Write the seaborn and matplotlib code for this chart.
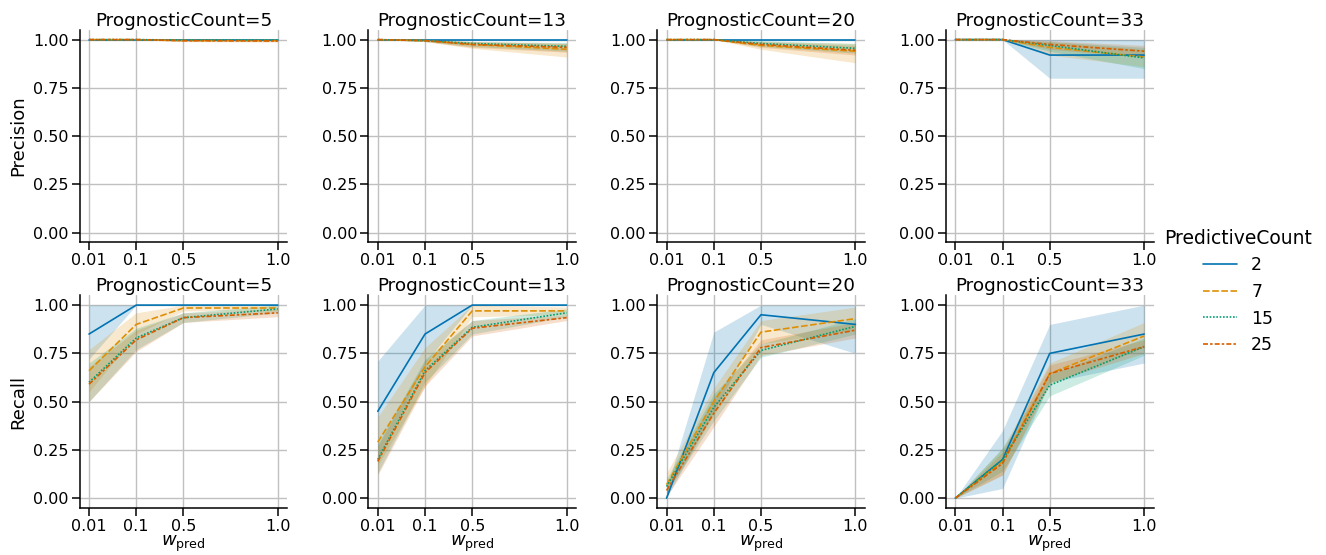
import numpy as np
import pandas as pd
import matplotlib
matplotlib.use("Agg")
import matplotlib.pyplot as plt
import seaborn as sns

# x values and facet levels
w_pred = [0.01, 0.1, 0.5, 1.0]
prognostic = [5, 13, 20, 33]
predictive = [2, 7, 15, 25]

# Precision: [prognostic][predictive][w_pred]
precision_mean = [
    [[1, 1, 1, 1], [1, 1, 0.995, 0.995], [1, 1, 0.998, 0.998], [1, 1, 0.995, 0.993]],
    [[1, 1, 1, 1], [1, 0.995, 0.975, 0.95], [1, 0.995, 0.98, 0.965], [1, 0.995, 0.975, 0.96]],
    [[1, 1, 1, 1], [1, 1, 0.97, 0.94], [1, 1, 0.98, 0.955], [1, 1, 0.975, 0.945]],
    [[1, 1, 0.92, 0.92], [1, 1, 0.96, 0.91], [1, 1, 0.97, 0.905], [1, 1, 0.975, 0.94]],
]
precision_lo = [
    [[1, 1, 1, 1], [1, 1, 0.99, 0.99], [1, 1, 0.995, 0.995], [1, 1, 0.99, 0.988]],
    [[1, 1, 1, 1], [1, 0.99, 0.955, 0.91], [1, 0.99, 0.965, 0.94], [1, 0.99, 0.96, 0.935]],
    [[1, 1, 1, 1], [1, 1, 0.95, 0.88], [1, 1, 0.965, 0.93], [1, 1, 0.96, 0.92]],
    [[1, 1, 0.8, 0.8], [1, 1, 0.92, 0.86], [1, 1, 0.94, 0.85], [1, 1, 0.95, 0.91]],
]
precision_hi = [
    [[1, 1, 1, 1], [1, 1, 1, 1], [1, 1, 1, 1], [1, 1, 1, 1]],
    [[1, 1, 1, 1], [1, 1, 0.99, 0.98], [1, 1, 0.99, 0.985], [1, 1, 0.99, 0.98]],
    [[1, 1, 1, 1], [1, 1, 0.99, 0.98], [1, 1, 0.995, 0.98], [1, 1, 0.99, 0.97]],
    [[1, 1, 1, 1], [1, 1, 0.99, 0.95], [1, 1, 0.99, 0.96], [1, 1, 0.995, 0.97]],
]

# Recall: [prognostic][predictive][w_pred]
recall_mean = [
    [[0.85, 1, 1, 1], [0.66, 0.90, 0.985, 0.985], [0.60, 0.83, 0.935, 0.98], [0.59, 0.82, 0.935, 0.96]],
    [[0.45, 0.85, 1, 1], [0.29, 0.68, 0.97, 0.97], [0.20, 0.66, 0.885, 0.96], [0.19, 0.65, 0.88, 0.935]],
    [[0.0, 0.65, 0.95, 0.90], [0.07, 0.50, 0.86, 0.93], [0.06, 0.47, 0.765, 0.89], [0.04, 0.44, 0.78, 0.87]],
    [[0.0, 0.20, 0.75, 0.85], [0.0, 0.19, 0.645, 0.84], [0.0, 0.20, 0.585, 0.785], [0.0, 0.18, 0.645, 0.785]],
]
recall_lo = [
    [[0.72, 1, 1, 1], [0.55, 0.85, 0.97, 0.97], [0.50, 0.77, 0.91, 0.96], [0.50, 0.76, 0.91, 0.94]],
    [[0.20, 0.70, 1, 1], [0.17, 0.58, 0.94, 0.95], [0.13, 0.60, 0.85, 0.94], [0.12, 0.58, 0.84, 0.92]],
    [[0.0, 0.45, 0.90, 0.75], [0.03, 0.43, 0.80, 0.87], [0.03, 0.40, 0.73, 0.85], [0.01, 0.37, 0.74, 0.83]],
    [[0.0, 0.05, 0.60, 0.70], [0.0, 0.12, 0.59, 0.78], [0.0, 0.14, 0.53, 0.74], [0.0, 0.12, 0.60, 0.75]],
]
recall_hi = [
    [[1.0, 1, 1, 1], [0.77, 0.96, 1.0, 1.0], [0.70, 0.88, 0.96, 1.0], [0.68, 0.87, 0.96, 0.98]],
    [[0.71, 1.0, 1, 1], [0.42, 0.78, 1.0, 0.99], [0.28, 0.72, 0.92, 0.98], [0.27, 0.71, 0.92, 0.95]],
    [[0.05, 0.86, 1.0, 1.0], [0.13, 0.57, 0.92, 0.99], [0.10, 0.54, 0.80, 0.93], [0.08, 0.52, 0.82, 0.91]],
    [[0.0, 0.35, 0.90, 1.0], [0.0, 0.26, 0.70, 0.91], [0.0, 0.26, 0.64, 0.83], [0.0, 0.24, 0.69, 0.82]],
]


def build_frame(mean, lo, hi):
    rows = []
    for i, pc in enumerate(prognostic):
        for j, pr in enumerate(predictive):
            for k, w in enumerate(w_pred):
                rows.append(dict(PrognosticCount=pc, PredictiveCount=pr, w=w,
                                 value=mean[i][j][k], lo=lo[i][j][k], hi=hi[i][j][k]))
    return pd.DataFrame(rows)


# piecewise linear x scale: 0.01 -> 0, 0.1 -> 1, 0.5 -> 2, 1.0 -> 4
def fwd(x):
    x = np.asarray(x, dtype=float)
    return np.where(x < 0.1, (x - 0.01) / 0.09,
                    np.where(x < 0.5, 1 + (x - 0.1) / 0.4, 2 + (x - 0.5) / 0.25))


def inv(y):
    y = np.asarray(y, dtype=float)
    return np.where(y < 1, 0.01 + y * 0.09,
                    np.where(y < 2, 0.1 + (y - 1) * 0.4, 0.5 + (y - 2) * 0.25))


sns.set_theme(style="ticks", palette="colorblind")
plt.rcParams['font.family'] = ['DejaVu Sans']
plt.rcParams['text.color'] = 'black'
plt.rcParams['axes.labelcolor'] = 'black'
plt.rcParams['xtick.color'] = 'black'
plt.rcParams['ytick.color'] = 'black'
plt.rcParams['axes.edgecolor'] = 'black'

colors = sns.color_palette("colorblind", 4)
dashes = {2: "", 7: (4, 1.5), 15: (1, 1), 25: (3, 1.25, 1.5, 1.25)}
palette = dict(zip(predictive, colors))

frames = {"Precision": build_frame(precision_mean, precision_lo, precision_hi),
          "Recall": build_frame(recall_mean, recall_lo, recall_hi)}

fig, axes = plt.subplots(2, 4, figsize=(13.26, 5.55), dpi=100)
fig.subplots_adjust(left=0.060, right=0.870, top=0.946, bottom=0.085,
                    wspace=0.39, hspace=0.25)

for r, metric in enumerate(["Precision", "Recall"]):
    df = frames[metric]
    for c, pc in enumerate(prognostic):
        ax = axes[r, c]
        ax.set_xscale("function", functions=(fwd, inv))
        sub = df[df.PrognosticCount == pc]
        for pr in predictive:
            s = sub[sub.PredictiveCount == pr]
            ax.fill_between(s.w, s.lo, s.hi, color=palette[pr], alpha=0.2, linewidth=0)
        sns.lineplot(data=sub, x="w", y="value", hue="PredictiveCount",
                     style="PredictiveCount", palette=palette, dashes=dashes,
                     errorbar=None, linewidth=1.2, ax=ax, legend=(r == 0 and c == 0))
        ax.set_xticks(w_pred)
        ax.set_xticklabels(["0.01", "0.1", "0.5", "1.0"])
        ax.minorticks_off()
        ax.set_ylim(-0.05, 1.05)
        ax.set_yticks([0, 0.25, 0.5, 0.75, 1.0])
        ax.set_yticklabels(["0.00", "0.25", "0.50", "0.75", "1.00"])
        ax.grid(True, color="#c0c0c0", linewidth=1.0)
        ax.set_axisbelow(True)
        ax.tick_params(labelsize=11.5, length=5.5, width=1.1, pad=2.5)
        for sp in ax.spines.values():
            sp.set_linewidth(1.1)
        sns.despine(ax=ax)
        ax.set_title(f"PrognosticCount={pc}", fontsize=13.2, pad=3)
        ax.set_ylabel(metric if c == 0 else "", fontsize=13)
        ax.set_xlabel(r"$w_{\mathrm{pred}}$" if r == 1 else "", fontsize=13, labelpad=0)

handles, labels = axes[0, 0].get_legend_handles_labels()
axes[0, 0].get_legend().remove()
fig.legend(handles, labels, title="PredictiveCount", loc="center left",
           bbox_to_anchor=(0.866, 0.475), frameon=False, fontsize=12.5,
           title_fontsize=13.5, handlelength=2.0, labelspacing=0.5)

fig.savefig("out.png", dpi=100)
